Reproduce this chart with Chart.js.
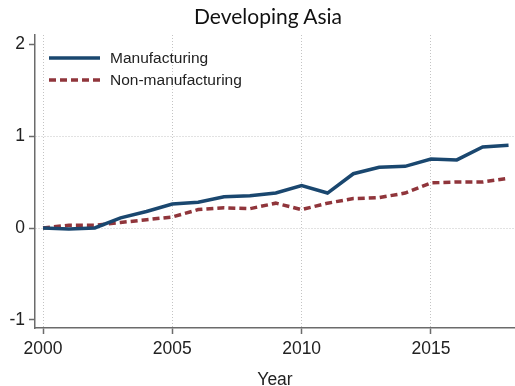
<!DOCTYPE html>
<html>
<head>
<meta charset="utf-8">
<script src="https://cdn.jsdelivr.net/npm/chart.js@4/dist/chart.umd.min.js"></script>
<style>
  html, body { margin: 0; padding: 0; background: #fff; }
  #wrap { position: relative; width: 515px; height: 386px; }
  #title {
    position: absolute; left: 0; top: 2px; width: 536px;
    text-align: center; color: #111;
    font: 21px Lato, "Open Sans", sans-serif; line-height: 28px;
  }
</style>
</head>
<body>
<div id="wrap">
  <div id="title">Developing Asia</div>
  <canvas id="myChart"></canvas>
</div>
<script>
const years = [2000, 2001, 2002, 2003, 2004, 2005, 2006, 2007, 2008, 2009,
               2010, 2011, 2012, 2013, 2014, 2015, 2016, 2017, 2018];

const manufacturing = [0.00, -0.01, 0.00, 0.11, 0.18, 0.26, 0.28, 0.34, 0.35, 0.38,
                       0.46, 0.38, 0.59, 0.66, 0.67, 0.75, 0.74, 0.88, 0.90];

const nonManufacturing = [0.00, 0.03, 0.03, 0.06, 0.09, 0.12, 0.20, 0.22, 0.21, 0.27,
                          0.20, 0.27, 0.32, 0.33, 0.38, 0.49, 0.50, 0.50, 0.54];

const xTicks = [2000, 2005, 2010, 2015];
const yTicks = [-1, 0, 1, 2];

const axisColor = '#6b6b6b';
const gridColor = '#c4c4c4';
const textColor = '#222';
const labelFont = '"Liberation Sans", Arial, sans-serif';

// legend sits inside the plot, top left, no frame
const insideLegend = {
  id: 'insideLegend',
  afterDraw(chart) {
    const ctx = chart.ctx;
    const x0 = chart.chartArea.left + 14;
    let y = chart.chartArea.top + 23;
    ctx.save();
    chart.data.datasets.forEach(ds => {
      ctx.beginPath();
      ctx.strokeStyle = ds.borderColor;
      ctx.lineWidth = ds.borderWidth;
      ctx.setLineDash(ds.borderDash || []);
      ctx.moveTo(x0, y);
      ctx.lineTo(x0 + 51, y);
      ctx.stroke();
      ctx.setLineDash([]);
      ctx.fillStyle = textColor;
      ctx.font = '15.5px ' + labelFont;
      ctx.textBaseline = 'middle';
      ctx.fillText(ds.label, x0 + 61, y + 1);
      y += 22;
    });
    ctx.restore();
  }
};

const data = {
  datasets: [{
    label: 'Manufacturing',
    data: years.map((yr, i) => ({x: yr, y: manufacturing[i]})),
    borderColor: '#1a476f',
    borderWidth: 3.5,
    pointRadius: 0,
    tension: 0,
  }, {
    label: 'Non-manufacturing',
    data: years.map((yr, i) => ({x: yr, y: nonManufacturing[i]})),
    borderColor: '#90353b',
    borderWidth: 3.5,
    borderDash: [7, 4],
    pointRadius: 0,
    tension: 0,
  }]
};

const config = {
  type: 'line',
  data: data,
  plugins: [insideLegend],
  options: {
    responsive: true,
    maintainAspectRatio: false,
    animation: false,
    layout: { padding: { left: 0, right: 0, top: 35, bottom: 0 } },
    plugins: {
      legend: { display: false },
      tooltip: { enabled: false }
    },
    scales: {
      x: {
        type: 'linear',
        min: 1999.69,
        max: 2018.25,
        afterBuildTicks: scale => { scale.ticks = xTicks.map(v => ({value: v})); },
        afterFit: scale => { scale.height = 58; },
        ticks: {
          color: textColor,
          padding: 5,
          font: { family: labelFont, size: 17.5 },
          callback: v => String(v)
        },
        grid: {
          color: gridColor,
          lineWidth: 1,
          tickColor: axisColor,
          tickWidth: 1.5,
          tickLength: 6
        },
        border: { color: axisColor, width: 1.5, dash: [1, 2] },
        title: {
          display: true,
          text: 'Year',
          color: textColor,
          font: { family: labelFont, size: 17.5, lineHeight: 1 },
          padding: { top: 0, bottom: -3 }
        }
      },
      y: {
        min: -1.087,
        max: 2.098,
        afterBuildTicks: scale => { scale.ticks = yTicks.map(v => ({value: v})); },
        afterFit: scale => { scale.width = 35; },
        ticks: {
          color: textColor,
          padding: 4,
          font: { family: labelFont, size: 17.5 }
        },
        grid: {
          color: c => (c.tick && (c.tick.value === 0 || c.tick.value === 1)) ? gridColor : 'rgba(0,0,0,0)',
          lineWidth: 1,
          tickColor: axisColor,
          tickWidth: 1.5,
          tickLength: 6
        },
        border: { color: axisColor, width: 1.5, dash: [1, 2] }
      }
    }
  }
};

new Chart(document.getElementById('myChart'), config);
</script>
</body>
</html>
